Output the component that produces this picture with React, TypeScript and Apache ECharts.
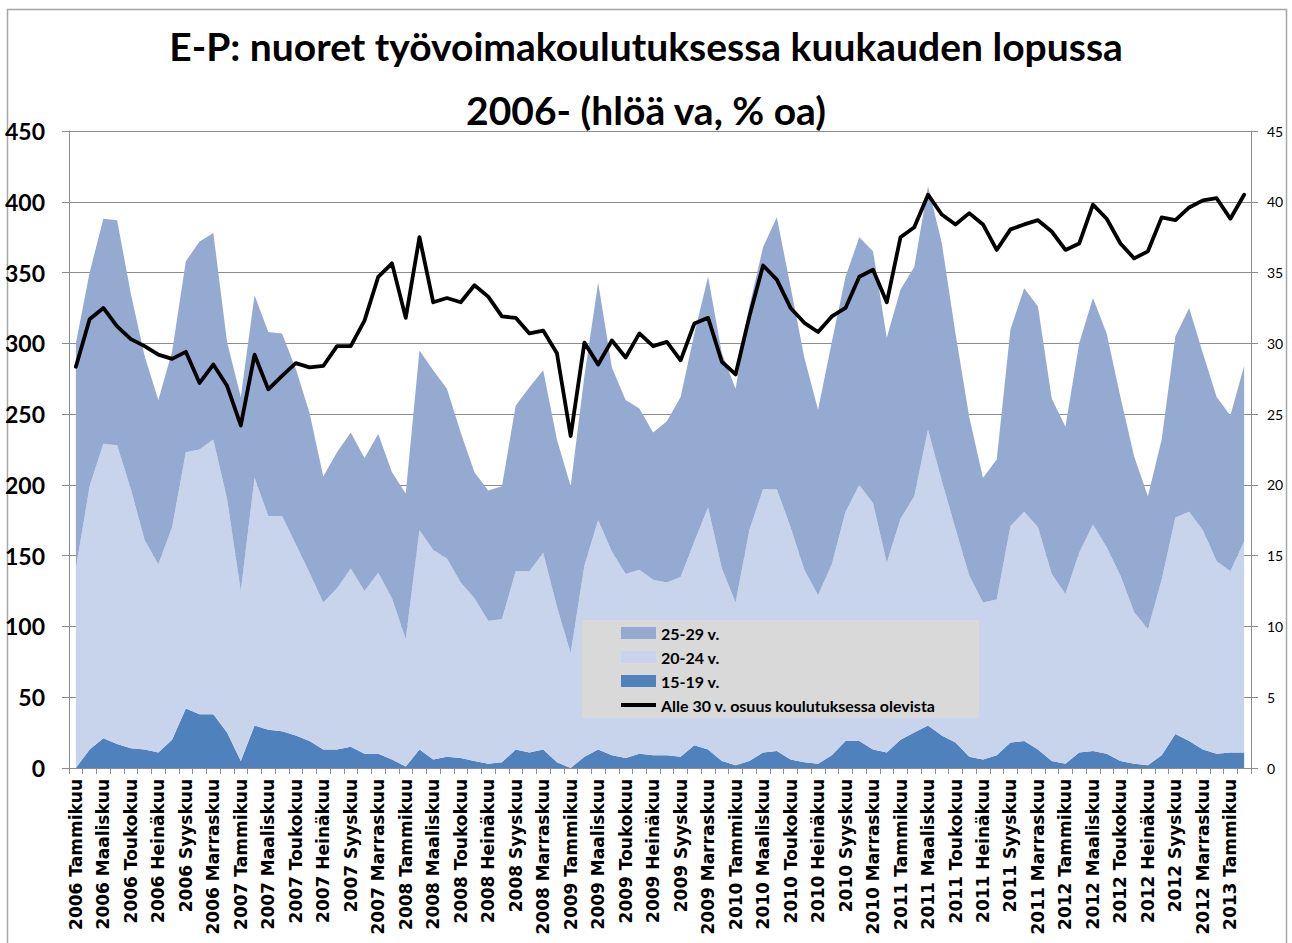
import React, { useEffect, useRef } from "react";
import * as echarts from "echarts";

const monthNames = ["Tammikuu", "Helmikuu", "Maaliskuu", "Huhtikuu", "Toukokuu", "Kesäkuu", "Heinäkuu", "Elokuu", "Syyskuu", "Lokakuu", "Marraskuu", "Joulukuu"];
const years = [2006, 2007, 2008, 2009, 2010, 2011, 2012];
const categories: string[] = [];
years.forEach((y) => monthNames.forEach((m) => categories.push(y + " " + m)));
categories.push("2013 Tammikuu", "2013 Helmikuu");

const age1519 = [0, 13, 21, 17, 14, 13, 11, 20, 42, 38, 38, 25, 5, 30, 27, 26, 23, 19, 13, 13, 15, 10, 10, 6, 1, 13, 6, 8, 7, 5, 3, 4, 13, 11, 13, 4, 0, 8, 13, 9, 7, 10, 9, 9, 8, 16, 13, 5, 2, 5, 11, 12, 6, 4, 3, 9, 19, 19, 13, 11, 20, 25, 30, 23, 18, 8, 6, 9, 18, 19, 13, 5, 3, 11, 12, 10, 5, 3, 2, 9, 24, 19, 13, 10, 11, 11];
const age2024 = [141, 186, 208, 211, 183, 148, 133, 150, 181, 187, 194, 165, 120, 175, 151, 152, 135, 119, 104, 114, 126, 115, 128, 114, 90, 155, 148, 140, 124, 115, 101, 101, 126, 128, 139, 110, 81, 135, 162, 144, 130, 130, 124, 122, 127, 144, 171, 136, 115, 163, 186, 185, 164, 136, 119, 135, 162, 181, 174, 134, 156, 167, 209, 180, 151, 128, 111, 110, 153, 162, 157, 132, 120, 141, 160, 146, 131, 107, 96, 124, 153, 162, 155, 136, 128, 149];
const age2529 = [159, 151, 159, 159, 138, 130, 116, 124, 135, 147, 146, 111, 137, 129, 130, 129, 124, 113, 89, 96, 96, 94, 98, 89, 103, 127, 127, 120, 106, 89, 92, 94, 117, 130, 129, 118, 118, 134, 168, 130, 123, 114, 104, 114, 127, 147, 163, 152, 151, 158, 171, 192, 170, 150, 131, 157, 166, 175, 178, 159, 162, 162, 172, 168, 138, 112, 88, 99, 139, 158, 156, 124, 118, 148, 160, 151, 126, 110, 94, 99, 128, 144, 125, 116, 110, 124];
const shareUnder30 = [28.35, 31.7, 32.5, 31.2, 30.3, 29.8, 29.2, 28.9, 29.4, 27.2, 28.5, 27.0, 24.2, 29.2, 26.75, 27.7, 28.6, 28.3, 28.4, 29.8, 29.8, 31.6, 34.7, 35.65, 31.8, 37.5, 32.9, 33.2, 32.9, 34.1, 33.3, 31.9, 31.8, 30.7, 30.9, 29.3, 23.45, 30.05, 28.5, 30.2, 29.0, 30.7, 29.8, 30.1, 28.8, 31.4, 31.8, 28.7, 27.8, 31.9, 35.5, 34.5, 32.5, 31.45, 30.8, 31.9, 32.5, 34.7, 35.2, 32.9, 37.5, 38.2, 40.5, 39.1, 38.4, 39.2, 38.4, 36.6, 38.05, 38.4, 38.7, 37.9, 36.6, 37.05, 39.8, 38.8, 37.05, 36.0, 36.5, 38.9, 38.7, 39.6, 40.1, 40.25, 38.8, 40.5];

const titleLine1 = "E-P: nuoret työvoimakoulutuksessa kuukauden lopussa";
const titleLine2 = "2006- (hlöä va, % oa)";
const seriesNames = ["15-19 v.", "20-24 v.", "25-29 v.", "Alle 30 v. osuus koulutuksessa olevista"];

export default function App() {
  const ref = useRef<HTMLDivElement>(null);
  useEffect(() => {
    if (!ref.current) return;
    const chart = echarts.init(ref.current, undefined, { renderer: "svg" });
    const gridColor = "#8c8c8c";
    const areaSeries = (name: string, data: number[], color: string) => ({
      name,
      type: "line",
      stack: "total",
      data,
      symbol: "none",
      lineStyle: { width: 0 },
      itemStyle: { color },
      areaStyle: { color, opacity: 1 },
      z: 2,
    });
    chart.setOption({
      animation: false,
      backgroundColor: "#ffffff",
      title: [
        {
          text: titleLine1,
          left: "center",
          top: 21,
          textStyle: { fontFamily: "Lato", fontWeight: "bold", fontSize: 39, color: "#000" },
        },
        {
          text: titleLine2,
          left: "center",
          top: 85,
          textStyle: { fontFamily: "Lato", fontWeight: "bold", fontSize: 39, color: "#000" },
        },
      ],
      legend: {
        orient: "vertical",
        left: 582,
        top: 620,
        backgroundColor: "#d9d9d9",
        padding: [5, 44, 5, 39],
        itemWidth: 35,
        itemHeight: 12,
        itemGap: 8,
        textStyle: { fontFamily: "Lato", fontWeight: "bold", fontSize: 16, color: "#000", lineHeight: 16 },
        data: [
          { name: seriesNames[2], icon: "rect" },
          { name: seriesNames[1], icon: "rect" },
          { name: seriesNames[0], icon: "rect" },
          { name: seriesNames[3], icon: "path://M0,0 L35,0 L35,4 L0,4 Z" },
        ],
      },
      grid: { left: 69, right: 41, top: 131, bottom: 175, containLabel: false, outerBoundsMode: "none" },
      xAxis: {
        type: "category",
        data: categories,
        boundaryGap: true,
        axisLine: { show: true, lineStyle: { color: gridColor, width: 1 } },
        axisTick: { show: true, interval: 0, length: 6, lineStyle: { color: gridColor } },
        axisLabel: {
          interval: 1,
          rotate: 90,
          margin: 11,
          fontFamily: "DejaVu Sans",
          fontWeight: "bold",
          fontSize: 17,
          color: "#000",
        },
        splitLine: { show: false },
      },
      yAxis: [
        {
          type: "value",
          min: 0,
          max: 450,
          interval: 50,
          axisLine: { show: true, lineStyle: { color: gridColor } },
          axisTick: { show: true, length: 7, lineStyle: { color: gridColor } },
          axisLabel: { margin: 24, fontFamily: "Lato", fontWeight: "bold", fontSize: 23, color: "#000" },
          splitLine: { show: true, lineStyle: { color: gridColor, width: 1 } },
        },
        {
          type: "value",
          position: "right",
          min: 0,
          max: 45,
          interval: 5,
          axisLine: { show: true, lineStyle: { color: gridColor } },
          axisTick: { show: true, length: 7, lineStyle: { color: gridColor } },
          axisLabel: { margin: 16, fontFamily: "Lato", fontSize: 14, color: "#000" },
          splitLine: { show: false },
        },
      ],
      series: [
        areaSeries(seriesNames[0], age1519, "#4f81bd"),
        areaSeries(seriesNames[1], age2024, "#c8d4ec"),
        areaSeries(seriesNames[2], age2529, "#95aad1"),
        {
          name: seriesNames[3],
          type: "line",
          yAxisIndex: 1,
          data: shareUnder30,
          symbol: "none",
          itemStyle: { color: "#000" },
          lineStyle: { color: "#000", width: 3.8, join: "round", cap: "round" },
          z: 5,
        },
      ],
      graphic: [
        {
          type: "rect",
          shape: { x: 7.5, y: 9.5, width: 1279, height: 960 },
          style: { fill: "none", stroke: "#a6a6a6", lineWidth: 1.5 },
          silent: true,
          z: -1,
        },
      ],
    });
    return () => chart.dispose();
  }, []);
  return <div ref={ref} style={{ position: "fixed", left: 0, top: 0, width: 1292, height: 943 }} />;
}
